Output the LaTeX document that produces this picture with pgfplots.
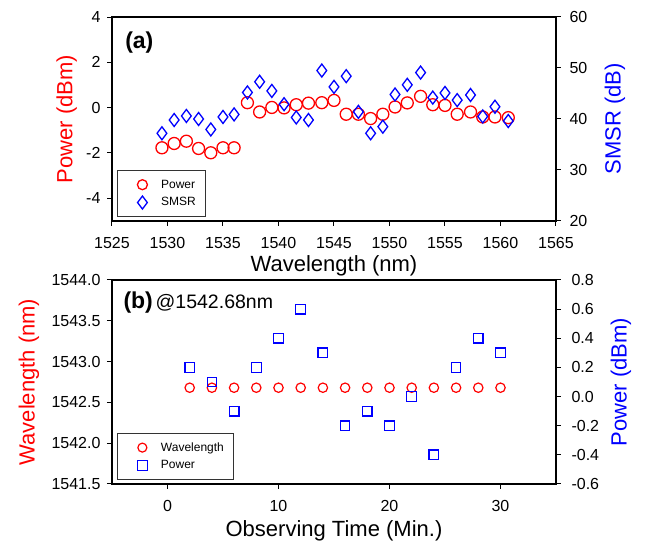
\documentclass[border=0pt]{standalone}
\usepackage{pgfplots}
\pgfplotsset{compat=1.18}
\usepackage{pgfplotstable}
\usepackage{fontspec}
\setmainfont{Liberation Sans}

\pgfplotstableread{
wl     pw     smsr
1529.5 -1.77  37.2
1530.6 -1.58  39.8
1531.7 -1.48  40.6
1532.8 -1.80  40.0
1533.9 -1.99  37.95
1535.0 -1.77  40.4
1536.0 -1.77  40.9
1537.2  0.22  45.2
1538.3 -0.19  47.3
1539.4  0.01  45.5
1540.5 -0.01  42.9
1541.6  0.13  40.3
1542.7  0.20  39.8
1543.9  0.22  49.5
1545.0  0.32  46.3
1546.1 -0.29  48.4
1547.2 -0.29  41.4
1548.3 -0.48  37.2
1549.4 -0.29  38.5
1550.5  0.03  44.8
1551.6  0.21  46.7
1552.8  0.50  49.1
1553.9  0.13  44.2
1555.0  0.10  45.1
1556.1 -0.29  43.7
1557.3 -0.19  44.7
1558.4 -0.41  40.5
1559.5 -0.41  42.4
1560.7 -0.44  39.6
}\sweep

\pgfplotstableread{
t   wl       pw
2   1542.68  0.2
4   1542.68  0.1
6   1542.68 -0.1
8   1542.68  0.2
10  1542.68  0.4
12  1542.68  0.6
14  1542.68  0.3
16  1542.68 -0.2
18  1542.68 -0.1
20  1542.68 -0.2
22  1542.68  0.0
24  1542.68 -0.4
26  1542.68  0.2
28  1542.68  0.4
30  1542.68  0.3
}\stab

\pgfplotsset{
  every axis/.append style={
    scale only axis, width=444pt, height=204pt, anchor=south west,
    tick align=outside, major tick length=5pt,
    axis line style={line width=1.1pt},
    every tick/.style={black, line width=1pt},
    ticklabel style={font=\fontsize{16}{16}\selectfont},
    xticklabel style={yshift=-8pt},
    label style={font=\fontsize{22}{22}\selectfont},
    /pgf/number format/assume math mode=true,
    /pgf/number format/1000 sep={},
  },
  lgd/.style={legend style={at={(axis description cs:0.012,0.02)}, anchor=south west,
    font=\fontsize{12}{12}\selectfont, draw=black!80, line width=0.9pt, fill=white,
    cells={anchor=west}, inner xsep=8pt, inner ysep=7pt, row sep=4pt},
    legend image code/.code={\path (0pt,0pt) (32pt,0pt); \draw[##1] plot coordinates {(16pt,0pt)};}},
}

\begin{document}
\begin{tikzpicture}[x=1pt,y=1pt]
\useasboundingbox (0,0) rectangle (646,546);

% (a)
\begin{axis}[at={(112pt,325pt)},
  xmin=1525, xmax=1565, xtick={1525,1530,...,1565},
  ymin=-5, ymax=4, ytick={-4,-2,0,2,4},
  yticklabel style={xshift=-3pt},
  xtick pos=bottom, ytick pos=left,
  xlabel={Wavelength (nm)},
  xlabel style={at={(axis description cs:0.5,-0.22)}, anchor=center},
  ylabel={Power (dBm)},
  ylabel style={at={(axis description cs:-0.102,0.5)}, anchor=center, red},
]
\addplot[only marks, mark=o, mark size=6pt, red, line width=1.3pt] table[x=wl, y=pw] {\sweep};
\node[anchor=west, font=\bfseries\fontsize{23}{23}\selectfont] at (axis description cs:0.022,0.873) {(a)};
\end{axis}
\begin{axis}[at={(112pt,325pt)}, lgd,
  xmin=1525, xmax=1565, hide x axis,
  axis y line*=right, ytick pos=right,
  ymin=20, ymax=60, ytick={20,30,40,50,60},
  yticklabel style={xshift=5pt},
  ylabel={SMSR (dB)},
  ylabel style={at={(axis description cs:1.133,0.5)}, anchor=center, blue},
]
\addlegendimage{only marks, mark=o, mark size=5pt, red, line width=1.3pt}
\addlegendentry{Power}
\addplot[only marks, mark=diamond, mark size=6.5pt, blue, line width=1.3pt] table[x=wl, y=smsr] {\sweep};
\addlegendentry{SMSR}
\end{axis}

% (b)
\begin{axis}[at={(112pt,62pt)},
  xmin=-5, xmax=35, xtick={0,10,20,30},
  ymin=1541.5, ymax=1544, ytick={1541.5,1542,1542.5,1543,1543.5,1544},
  yticklabel style={xshift=-3pt, /pgf/number format/.cd, fixed, precision=1, fixed zerofill},
  xtick pos=bottom, ytick pos=left,
  xlabel={Observing Time (Min.)},
  xlabel style={at={(axis description cs:0.5,-0.23)}, anchor=center},
  ylabel={Wavelength (nm)},
  ylabel style={at={(axis description cs:-0.187,0.5)}, anchor=center, red},
]
\addplot[only marks, mark=o, mark size=4.7pt, red, line width=1.2pt] table[x=t, y=wl] {\stab};
\node[anchor=west] at (axis description cs:0.018,0.887)
  {{\bfseries\fontsize{23}{23}\selectfont (b)} {\fontsize{19.5}{20}\selectfont @1542.68nm}};
\end{axis}
\begin{axis}[at={(112pt,62pt)}, lgd,
  xmin=-5, xmax=35, hide x axis,
  axis y line*=right, ytick pos=right,
  ymin=-0.6, ymax=0.8, ytick={-0.6,-0.4,-0.2,0,0.2,0.4,0.6,0.8},
  yticklabel style={xshift=7pt, /pgf/number format/.cd, fixed, precision=1, fixed zerofill},
  ylabel={Power (dBm)},
  ylabel style={at={(axis description cs:1.146,0.5)}, anchor=center, blue},
]
\addlegendimage{only marks, mark=o, mark size=4.5pt, red, line width=1.2pt}
\addlegendentry{Wavelength}
\addplot[only marks, mark=square, mark size=4.8pt, blue, line width=1.2pt] table[x=t, y=pw] {\stab};
\addlegendentry{Power}
\end{axis}
\end{tikzpicture}
\end{document}
